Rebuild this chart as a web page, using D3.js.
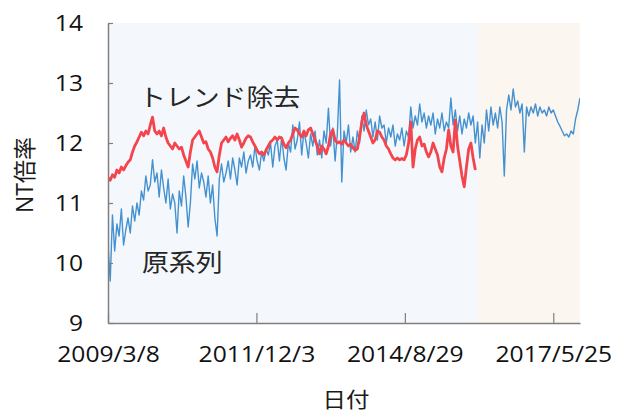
<!DOCTYPE html>
<html>
<head>
<meta charset="utf-8">
<script src="https://cdn.jsdelivr.net/npm/d3@7"></script>
<style>
  body { margin: 0; background: #fff; }
  text { font-family: "Open Sans", "Noto Sans CJK JP", sans-serif; fill: #1a1a1a; }
</style>
</head>
<body>
<div id="chart"></div>
<script>
// data: one value every 15 days starting 2009/3/8
var startDate = "2009-03-08";
var stepDays = 15;
var endDays = 3180;
var testStart = "2016-01-04";

// 原系列 (blue)
var rawValues = [
  10.3, 9.7, 10.8, 10.2, 10.65, 10.45, 10.9, 10.3, 10.55, 10.75,
  10.5, 10.95, 10.7, 11.0, 10.8, 11.2, 11.05, 11.45, 11.2, 11.3,
  11.72, 11.35, 11.5, 11.1, 11.55, 11.25, 11.0, 11.4, 10.9, 11.15,
  11.0, 10.5, 11.2, 10.95, 11.45, 11.1, 10.6, 11.0, 11.65, 11.4,
  11.7, 11.25, 11.5, 11.35, 11.1, 11.45, 11.0, 11.3, 10.75, 10.45,
  11.4, 11.65, 11.35, 11.5, 11.7, 11.4, 11.75, 11.55, 11.3, 11.75,
  11.6, 11.85, 11.5, 11.7, 11.8, 11.6, 11.95, 11.7, 11.55, 11.85,
  11.7, 11.9, 11.8, 12.0, 11.6, 11.95, 12.05, 11.7, 12.1, 11.75,
  11.55, 12.0, 11.85, 12.3, 11.9, 12.05, 12.35, 11.8, 12.2, 12.0,
  11.75, 12.15, 11.95, 12.2, 11.8, 12.05, 11.75, 12.2, 12.0, 12.58,
  11.95, 12.25, 11.7, 12.15, 13.05, 11.35, 12.2, 12.0, 12.3, 11.85,
  12.1, 11.85, 12.2, 12.0, 12.45, 12.2, 12.55, 12.3, 12.4, 12.1,
  12.35, 12.05, 12.45, 12.25, 12.3, 12.0, 12.25, 12.1, 12.3, 11.95,
  12.15, 12.05, 12.25, 11.95, 12.2, 12.1, 12.6, 12.25, 12.45, 12.3,
  12.65, 12.35, 12.5, 12.25, 12.45, 12.3, 12.5, 12.15, 12.4, 12.25,
  12.5, 12.2, 12.35, 12.25, 12.75, 12.3, 12.55, 12.2, 12.45, 12.15,
  12.4, 12.25, 12.5, 12.3, 12.45, 12.0, 12.35, 11.75, 12.3, 12.0,
  12.55, 12.2, 12.6, 12.3, 12.5, 12.25, 12.6, 12.35, 11.45, 12.55,
  12.8, 12.55, 12.9, 12.6, 12.7, 12.5, 12.65, 11.85, 12.6, 12.45,
  12.6, 12.5, 12.65, 12.45, 12.6, 12.5, 12.55, 12.45, 12.6, 12.5,
  12.55, 12.45, 12.35, 12.28, 12.2, 12.12, 12.15, 12.1, 12.2, 12.15,
  12.4, 12.55, 12.75
];

// トレンド除去 (red)
var detrendValues = [
  11.42, 11.38, 11.47, 11.43, 11.55, 11.5, 11.6, 11.55, 11.62, 11.68,
  11.72, 11.85, 11.95, 12.02, 12.1, 12.18, 12.12, 12.2, 12.15, 12.3,
  12.43, 12.2, 12.15, 12.2, 12.12, 12.25, 12.1, 12.0, 11.95, 11.9,
  12.0, 11.95, 11.9, 11.93, 11.8, 11.7, 11.6, 11.85, 12.05, 12.1,
  12.15, 12.2, 12.1, 12.0, 12.02, 11.9, 11.85, 11.75, 11.6, 11.52,
  11.8, 12.0, 12.05, 12.1, 12.02, 12.08, 12.12, 12.05, 12.15, 12.05,
  11.93, 12.0, 12.08, 12.12, 12.1, 12.02, 11.95, 11.88, 11.82, 11.85,
  11.8, 11.88, 11.95, 12.02, 12.05, 12.1, 12.05, 12.1, 12.08, 11.98,
  11.92, 12.0, 12.05, 12.15, 12.25, 12.22, 12.15, 12.1, 12.2, 12.12,
  12.22, 12.25, 12.15, 12.05, 11.95, 11.82, 11.95, 11.9, 11.82, 11.95,
  12.15, 12.22, 12.05, 12.0, 12.02, 11.98, 12.05, 12.0, 11.95, 11.98,
  11.92, 11.88, 11.9, 12.1, 12.35, 12.5, 12.3, 12.2, 12.1, 12.0,
  12.05, 12.2, 12.18, 12.1, 12.05, 11.95, 11.9, 11.82, 11.75, 11.72,
  11.75, 11.72, 11.74, 11.72, 11.8, 12.0, 12.35, 11.6, 11.9, 12.05,
  12.1, 11.95, 11.98, 11.85, 11.77, 11.85, 12.0, 11.9, 11.8, 11.6,
  11.52, 11.75, 11.9, 12.22, 11.95, 11.85, 12.38, 11.95, 11.7, 11.45,
  11.27, 11.6, 11.9, 12.0, 11.75, 11.55
];

var yTicks = [9, 10, 11, 12, 13, 14];
var xTickDates = ["2009-03-08", "2011-12-03", "2014-08-29", "2017-05-25"];
var xTickLabels = ["2009/3/8", "2011/12/3", "2014/8/29", "2017/5/25"];

// layout
var width = 625, height = 414;
var plot = {left: 108, right: 580, top: 23, bottom: 323};
var stretch = 1.12;

var parse = d3.utcParse("%Y-%m-%d");
var t0 = parse(startDate);

var x = d3.scaleUtc()
    .domain([t0, d3.utcDay.offset(t0, endDays)])
    .range([plot.left, plot.right]);
var y = d3.scaleLinear()
    .domain([9, 14])
    .range([plot.bottom, plot.top]);

var svg = d3.select("#chart").append("svg")
    .attr("width", width)
    .attr("height", height);

// shaded periods
svg.append("rect")
    .attr("x", plot.left).attr("y", plot.top)
    .attr("width", x(parse(testStart)) - plot.left)
    .attr("height", plot.bottom - plot.top)
    .style("fill", "#f4f8fc");
svg.append("rect")
    .attr("x", x(parse(testStart))).attr("y", plot.top)
    .attr("width", plot.right - x(parse(testStart)))
    .attr("height", plot.bottom - plot.top)
    .style("fill", "#fbf6f0");

function toPoints(values) {
    return values.map(function(v, i) {
        return {date: d3.utcDay.offset(t0, i * stepDays), value: v};
    });
}

var line = d3.line()
    .x(function(d) { return x(d.date); })
    .y(function(d) { return y(d.value); });

svg.append("defs").append("clipPath").attr("id", "clip")
  .append("rect")
    .attr("x", plot.left).attr("y", plot.top)
    .attr("width", plot.right - plot.left)
    .attr("height", plot.bottom - plot.top);

var lines = svg.append("g").attr("clip-path", "url(#clip)");

lines.append("path")
    .datum(toPoints(rawValues))
    .attr("d", line)
    .style("fill", "none")
    .style("stroke", "#4591cf")
    .style("stroke-width", 1.4)
    .style("stroke-linejoin", "round");

lines.append("path")
    .datum(toPoints(detrendValues))
    .attr("d", line)
    .style("fill", "none")
    .style("stroke", "#f4454c")
    .style("stroke-width", 2.8)
    .style("stroke-linejoin", "round");

// stretch text horizontally around its anchor point
function widen(sel) {
    sel.each(function() {
        var t = d3.select(this);
        var tx = +t.attr("x") || 0;
        var ty = +t.attr("y") || 0;
        t.attr("x", 0).attr("y", 0)
         .attr("transform", "translate(" + tx + "," + ty + ") scale(" + stretch + ",1)");
    });
}

// axes
var yAxis = svg.append("g")
    .attr("transform", "translate(" + plot.left + ",0)")
    .call(d3.axisLeft(y).tickValues(yTicks).tickFormat(d3.format("d"))
        .tickSizeInner(-5).tickSizeOuter(0).tickPadding(25));
var xAxis = svg.append("g")
    .attr("transform", "translate(0," + plot.bottom + ")")
    .call(d3.axisBottom(x)
        .tickValues(xTickDates.map(parse))
        .tickFormat(function(d, i) { return xTickLabels[i]; })
        .tickSizeInner(-10).tickSizeOuter(0).tickPadding(28));

[yAxis, xAxis].forEach(function(ax) {
    ax.select(".domain").style("stroke", "#7f7f7f").style("stroke-width", 1.5);
    ax.selectAll(".tick line").style("stroke", "#7f7f7f").style("stroke-width", 1.2);
    ax.selectAll(".tick text")
        .style("font-size", "22px")
        .style("fill", "#111");
});
yAxis.selectAll(".tick text").attr("dy", "0.36em");
xAxis.selectAll(".tick text").attr("dy", "0.5em");
widen(yAxis.selectAll(".tick text"));
widen(xAxis.selectAll(".tick text"));

// axis titles
svg.append("text")
    .attr("x", 346).attr("y", 407)
    .attr("text-anchor", "middle")
    .style("font-size", "21px")
    .text("日付")
    .call(widen);

svg.append("text")
    .attr("transform", "translate(33,175) rotate(-90)")
    .attr("text-anchor", "middle")
    .style("font-size", "23px")
    .text("NT倍率");

// annotations
svg.append("text")
    .attr("x", 139).attr("y", 106)
    .style("font-size", "24px")
    .style("fill", "#262626")
    .text("トレンド除去")
    .call(widen);

svg.append("text")
    .attr("x", 142).attr("y", 271)
    .style("font-size", "24px")
    .style("fill", "#262626")
    .text("原系列")
    .call(widen);
</script>
</body>
</html>
